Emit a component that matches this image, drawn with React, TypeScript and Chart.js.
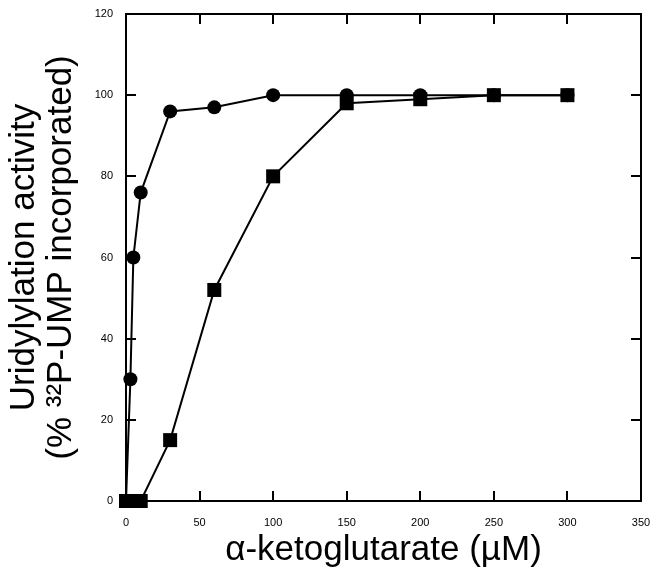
import React, { useEffect, useRef } from "react";
import { Chart, registerables } from "chart.js";

Chart.register(...registerables);

// Data
const circleX = [0, 3, 5, 10, 30, 60, 100, 150, 200, 250, 300];
const circleY = [0, 30, 60, 76, 96, 97, 100, 100, 100, 100, 100];
const squareX = [0, 5, 10, 30, 60, 100, 150, 200, 250, 300];
const squareY = [0, 0, 0, 15, 52, 80, 98, 99, 100, 100];
const xTicks = [0, 50, 100, 150, 200, 250, 300, 350];
const yTicks = [0, 20, 40, 60, 80, 100, 120];
const xTitle = "\u03b1-ketoglutarate (\u00b5M)";
const yTitle = ["Uridylylation activity", "(% \u00b3\u00b2P-UMP incorporated)"];

const FONT = "'Liberation Sans', Arial, Helvetica, sans-serif";

const framePlugin = {
  id: "frame",
  beforeDatasetsDraw(chart: any) {
    const { ctx, chartArea, scales } = chart;
    const { left, right, top, bottom } = chartArea;
    const x = scales.x;
    const y = scales.y;
    ctx.save();
    ctx.strokeStyle = "#000";
    ctx.lineWidth = 2;
    ctx.strokeRect(left, top, right - left, bottom - top);
    ctx.beginPath();
    const tl = 10;
    xTicks.forEach((v) => {
      const px = Math.round(x.getPixelForValue(v));
      ctx.moveTo(px, bottom);
      ctx.lineTo(px, bottom - tl);
      ctx.moveTo(px, top);
      ctx.lineTo(px, top + tl);
    });
    yTicks.forEach((v) => {
      const py = Math.round(y.getPixelForValue(v));
      ctx.moveTo(left, py);
      ctx.lineTo(left + tl, py);
      ctx.moveTo(right, py);
      ctx.lineTo(right - tl, py);
    });
    ctx.stroke();
    ctx.restore();
  },
};

const zeroPad = (s: any) => {
  s.paddingLeft = 0;
  s.paddingRight = 0;
  s.paddingTop = 0;
  s.paddingBottom = 0;
};

export default function App() {
  const ref = useRef<HTMLCanvasElement>(null);
  useEffect(() => {
    const canvas = ref.current;
    if (!canvas) return;
    const chart = new Chart(canvas, {
      type: "line",
      data: {
        datasets: [
          {
            label: "circles",
            data: circleX.map((x, i) => ({ x, y: circleY[i] })),
            borderColor: "#000",
            backgroundColor: "#000",
            borderWidth: 2,
            pointStyle: "circle",
            pointRadius: 7,
            pointBorderWidth: 0,
            pointBackgroundColor: "#000",
            tension: 0,
            clip: false as any,
          },
          {
            label: "squares",
            data: squareX.map((x, i) => ({ x, y: squareY[i] })),
            borderColor: "#000",
            backgroundColor: "#000",
            borderWidth: 2,
            pointStyle: "rect",
            pointRadius: 9.9,
            pointBorderWidth: 0,
            pointBackgroundColor: "#000",
            tension: 0,
            clip: false as any,
          },
        ],
      },
      options: {
        responsive: false,
        animation: false,
        events: [],
        layout: { autoPadding: false, padding: { left: 0, right: 12, top: 14, bottom: 0 } },
        plugins: { legend: { display: false }, tooltip: { enabled: false } },
        scales: {
          x: {
            type: "linear",
            min: 0,
            max: 350,
            afterBuildTicks: (s: any) => {
              s.ticks = xTicks.map((v) => ({ value: v }));
            },
            afterFit: (s: any) => {
              s.height = 70;
              zeroPad(s);
            },
            grid: { display: false, drawTicks: false },
            border: { display: false },
            ticks: {
              padding: 15,
              color: "#000",
              font: { family: FONT, size: 11 },
              maxRotation: 0,
              autoSkip: false,
            },
            title: {
              display: true,
              text: xTitle,
              color: "#000",
              font: { family: FONT, size: 35, lineHeight: 1.06 },
              padding: { top: 0, bottom: 2.5 },
            },
          },
          y: {
            type: "linear",
            min: 0,
            max: 120,
            afterBuildTicks: (s: any) => {
              s.ticks = yTicks.map((v) => ({ value: v }));
            },
            afterFit: (s: any) => {
              s.width = 126;
              zeroPad(s);
            },
            grid: { display: false, drawTicks: false },
            border: { display: false },
            ticks: {
              padding: 13,
              color: "#000",
              font: { family: FONT, size: 11 },
              autoSkip: false,
            },
            title: {
              display: true,
              text: yTitle,
              color: "#000",
              font: { family: FONT, size: 35, lineHeight: 1.06 },
              padding: { top: 5.5, bottom: 0 },
            },
          },
        },
      },
      plugins: [framePlugin],
    });
    return () => chart.destroy();
  }, []);
  return (
    <div style={{ position: "fixed", left: 0, top: 0, width: 653, height: 571, background: "#fff" }}>
      <canvas ref={ref} width={653} height={571} style={{ display: "block" }} />
    </div>
  );
}
